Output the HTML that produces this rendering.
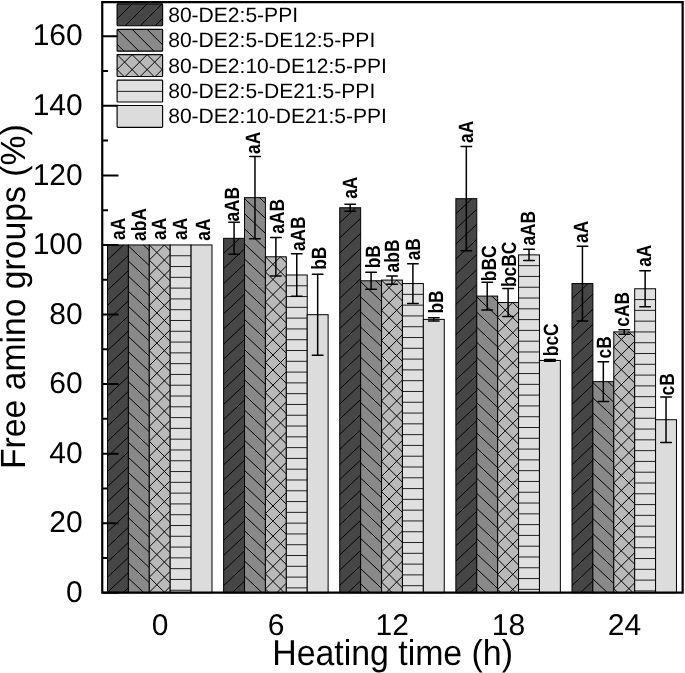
<!DOCTYPE html>
<html><head><meta charset="utf-8"><style>
html,body{margin:0;padding:0;background:#fff;}
svg{display:block;will-change:transform;}
text{font-family:"Liberation Sans",sans-serif;fill:#000;text-rendering:geometricPrecision;}
.lb{font-size:20.7px;font-weight:bold;}
.tl{font-size:30px;}
.tt{font-size:35px;}
.lg{font-size:20.8px;}
</style></head><body>
<svg width="685" height="673" viewBox="0 0 685 673">
<defs></defs>
<rect width="685" height="673" fill="#fff"/>
<rect x="107.50" y="244.96" width="20.90" height="347.80" fill="#464646"/>
<path d="M107.50,260.06L123.56,244.96M107.50,275.16L128.40,255.51M107.50,290.26L128.40,270.61M107.50,305.36L128.40,285.71M107.50,320.46L128.40,300.81M107.50,335.56L128.40,315.91M107.50,350.66L128.40,331.01M107.50,365.76L128.40,346.11M107.50,380.86L128.40,361.21M107.50,395.96L128.40,376.31M107.50,411.06L128.40,391.41M107.50,426.16L128.40,406.51M107.50,441.26L128.40,421.61M107.50,456.36L128.40,436.71M107.50,471.46L128.40,451.81M107.50,486.56L128.40,466.91M107.50,501.66L128.40,482.01M107.50,516.76L128.40,497.11M107.50,531.86L128.40,512.21M107.50,546.96L128.40,527.31M107.50,562.06L128.40,542.41M107.50,577.16L128.40,557.51M107.50,592.26L128.40,572.61M123.03,592.76L128.40,587.71" stroke="#000" stroke-width="1" fill="none"/>
<rect x="107.50" y="244.96" width="20.90" height="347.80" fill="none" stroke="#000" stroke-width="1"/>
<rect x="128.40" y="244.96" width="20.90" height="347.80" fill="#898989"/>
<path d="M143.40,244.96L149.30,250.51M128.40,245.96L149.30,265.61M128.40,261.06L149.30,280.71M128.40,276.16L149.30,295.81M128.40,291.26L149.30,310.91M128.40,306.36L149.30,326.01M128.40,321.46L149.30,341.11M128.40,336.56L149.30,356.21M128.40,351.66L149.30,371.31M128.40,366.76L149.30,386.41M128.40,381.86L149.30,401.51M128.40,396.96L149.30,416.61M128.40,412.06L149.30,431.71M128.40,427.16L149.30,446.81M128.40,442.26L149.30,461.91M128.40,457.36L149.30,477.01M128.40,472.46L149.30,492.11M128.40,487.56L149.30,507.21M128.40,502.66L149.30,522.31M128.40,517.76L149.30,537.41M128.40,532.86L149.30,552.51M128.40,547.96L149.30,567.61M128.40,563.06L149.30,582.71M128.40,578.16L143.93,592.76" stroke="#000" stroke-width="1" fill="none"/>
<rect x="128.40" y="244.96" width="20.90" height="347.80" fill="none" stroke="#000" stroke-width="1"/>
<rect x="149.30" y="244.96" width="20.90" height="347.80" fill="#b9b9b9"/>
<path d="M149.30,260.06L164.40,244.96M149.30,275.16L170.20,254.26M149.30,290.26L170.20,269.36M149.30,305.36L170.20,284.46M149.30,320.46L170.20,299.56M149.30,335.56L170.20,314.66M149.30,350.66L170.20,329.76M149.30,365.76L170.20,344.86M149.30,380.86L170.20,359.96M149.30,395.96L170.20,375.06M149.30,411.06L170.20,390.16M149.30,426.16L170.20,405.26M149.30,441.26L170.20,420.36M149.30,456.36L170.20,435.46M149.30,471.46L170.20,450.56M149.30,486.56L170.20,465.66M149.30,501.66L170.20,480.76M149.30,516.76L170.20,495.86M149.30,531.86L170.20,510.96M149.30,546.96L170.20,526.06M149.30,562.06L170.20,541.16M149.30,577.16L170.20,556.26M149.30,592.26L170.20,571.36M163.90,592.76L170.20,586.46M164.40,244.96L170.20,250.76M149.30,244.96L170.20,265.86M149.30,260.06L170.20,280.96M149.30,275.16L170.20,296.06M149.30,290.26L170.20,311.16M149.30,305.36L170.20,326.26M149.30,320.46L170.20,341.36M149.30,335.56L170.20,356.46M149.30,350.66L170.20,371.56M149.30,365.76L170.20,386.66M149.30,380.86L170.20,401.76M149.30,395.96L170.20,416.86M149.30,411.06L170.20,431.96M149.30,426.16L170.20,447.06M149.30,441.26L170.20,462.16M149.30,456.36L170.20,477.26M149.30,471.46L170.20,492.36M149.30,486.56L170.20,507.46M149.30,501.66L170.20,522.56M149.30,516.76L170.20,537.66M149.30,531.86L170.20,552.76M149.30,546.96L170.20,567.86M149.30,562.06L170.20,582.96M149.30,577.16L164.90,592.76M149.30,592.26L149.80,592.76" stroke="#000" stroke-width="1" fill="none"/>
<rect x="149.30" y="244.96" width="20.90" height="347.80" fill="none" stroke="#000" stroke-width="1"/>
<rect x="170.20" y="244.96" width="20.90" height="347.80" fill="#e0e0e0"/>
<path d="M170.20,255.75L191.10,255.75M170.20,266.54L191.10,266.54M170.20,277.33L191.10,277.33M170.20,288.12L191.10,288.12M170.20,298.91L191.10,298.91M170.20,309.70L191.10,309.70M170.20,320.49L191.10,320.49M170.20,331.28L191.10,331.28M170.20,342.07L191.10,342.07M170.20,352.86L191.10,352.86M170.20,363.65L191.10,363.65M170.20,374.44L191.10,374.44M170.20,385.23L191.10,385.23M170.20,396.02L191.10,396.02M170.20,406.81L191.10,406.81M170.20,417.60L191.10,417.60M170.20,428.39L191.10,428.39M170.20,439.18L191.10,439.18M170.20,449.97L191.10,449.97M170.20,460.76L191.10,460.76M170.20,471.55L191.10,471.55M170.20,482.34L191.10,482.34M170.20,493.13L191.10,493.13M170.20,503.92L191.10,503.92M170.20,514.71L191.10,514.71M170.20,525.50L191.10,525.50M170.20,536.29L191.10,536.29M170.20,547.08L191.10,547.08M170.20,557.87L191.10,557.87M170.20,568.66L191.10,568.66M170.20,579.45L191.10,579.45M170.20,590.24L191.10,590.24" stroke="#222" stroke-width="1" fill="none"/>
<rect x="170.20" y="244.96" width="20.90" height="347.80" fill="none" stroke="#000" stroke-width="1"/>
<rect x="191.10" y="244.96" width="20.90" height="347.80" fill="#dcdcdc"/>
<rect x="191.10" y="244.96" width="20.90" height="347.80" fill="none" stroke="#000" stroke-width="1"/>
<rect x="223.62" y="238.35" width="20.90" height="354.41" fill="#464646"/>
<path d="M223.62,253.45L239.68,238.35M223.62,268.55L244.52,248.91M223.62,283.65L244.52,264.01M223.62,298.75L244.52,279.11M223.62,313.85L244.52,294.21M223.62,328.95L244.52,309.31M223.62,344.05L244.52,324.41M223.62,359.15L244.52,339.51M223.62,374.25L244.52,354.61M223.62,389.35L244.52,369.71M223.62,404.45L244.52,384.81M223.62,419.55L244.52,399.91M223.62,434.65L244.52,415.01M223.62,449.75L244.52,430.11M223.62,464.85L244.52,445.21M223.62,479.95L244.52,460.31M223.62,495.05L244.52,475.41M223.62,510.15L244.52,490.51M223.62,525.25L244.52,505.61M223.62,540.35L244.52,520.71M223.62,555.45L244.52,535.81M223.62,570.55L244.52,550.91M223.62,585.65L244.52,566.01M232.12,592.76L244.52,581.11" stroke="#000" stroke-width="1" fill="none"/>
<rect x="223.62" y="238.35" width="20.90" height="354.41" fill="none" stroke="#000" stroke-width="1"/>
<rect x="244.52" y="197.66" width="20.90" height="395.10" fill="#898989"/>
<path d="M259.52,197.66L265.42,203.21M244.52,198.66L265.42,218.31M244.52,213.76L265.42,233.41M244.52,228.86L265.42,248.51M244.52,243.96L265.42,263.61M244.52,259.06L265.42,278.71M244.52,274.16L265.42,293.81M244.52,289.26L265.42,308.91M244.52,304.36L265.42,324.01M244.52,319.46L265.42,339.11M244.52,334.56L265.42,354.21M244.52,349.66L265.42,369.31M244.52,364.76L265.42,384.41M244.52,379.86L265.42,399.51M244.52,394.96L265.42,414.61M244.52,410.06L265.42,429.71M244.52,425.16L265.42,444.81M244.52,440.26L265.42,459.91M244.52,455.36L265.42,475.01M244.52,470.46L265.42,490.11M244.52,485.56L265.42,505.21M244.52,500.66L265.42,520.31M244.52,515.76L265.42,535.41M244.52,530.86L265.42,550.51M244.52,545.96L265.42,565.61M244.52,561.06L265.42,580.71M244.52,576.16L262.18,592.76M244.52,591.26L246.12,592.76" stroke="#000" stroke-width="1" fill="none"/>
<rect x="244.52" y="197.66" width="20.90" height="395.10" fill="none" stroke="#000" stroke-width="1"/>
<rect x="265.42" y="256.79" width="20.90" height="335.97" fill="#b9b9b9"/>
<path d="M265.42,271.89L280.52,256.79M265.42,286.99L286.32,266.09M265.42,302.09L286.32,281.19M265.42,317.19L286.32,296.29M265.42,332.29L286.32,311.39M265.42,347.39L286.32,326.49M265.42,362.49L286.32,341.59M265.42,377.59L286.32,356.69M265.42,392.69L286.32,371.79M265.42,407.79L286.32,386.89M265.42,422.89L286.32,401.99M265.42,437.99L286.32,417.09M265.42,453.09L286.32,432.19M265.42,468.19L286.32,447.29M265.42,483.29L286.32,462.39M265.42,498.39L286.32,477.49M265.42,513.49L286.32,492.59M265.42,528.59L286.32,507.69M265.42,543.69L286.32,522.79M265.42,558.79L286.32,537.89M265.42,573.89L286.32,552.99M265.42,588.99L286.32,568.09M276.75,592.76L286.32,583.19M280.52,256.79L286.32,262.59M265.42,256.79L286.32,277.69M265.42,271.89L286.32,292.79M265.42,286.99L286.32,307.89M265.42,302.09L286.32,322.99M265.42,317.19L286.32,338.09M265.42,332.29L286.32,353.19M265.42,347.39L286.32,368.29M265.42,362.49L286.32,383.39M265.42,377.59L286.32,398.49M265.42,392.69L286.32,413.59M265.42,407.79L286.32,428.69M265.42,422.89L286.32,443.79M265.42,437.99L286.32,458.89M265.42,453.09L286.32,473.99M265.42,468.19L286.32,489.09M265.42,483.29L286.32,504.19M265.42,498.39L286.32,519.29M265.42,513.49L286.32,534.39M265.42,528.59L286.32,549.49M265.42,543.69L286.32,564.59M265.42,558.79L286.32,579.69M265.42,573.89L284.29,592.76M265.42,588.99L269.19,592.76" stroke="#000" stroke-width="1" fill="none"/>
<rect x="265.42" y="256.79" width="20.90" height="335.97" fill="none" stroke="#000" stroke-width="1"/>
<rect x="286.32" y="274.98" width="20.90" height="317.78" fill="#e0e0e0"/>
<path d="M286.32,285.77L307.22,285.77M286.32,296.56L307.22,296.56M286.32,307.35L307.22,307.35M286.32,318.14L307.22,318.14M286.32,328.93L307.22,328.93M286.32,339.72L307.22,339.72M286.32,350.51L307.22,350.51M286.32,361.30L307.22,361.30M286.32,372.09L307.22,372.09M286.32,382.88L307.22,382.88M286.32,393.67L307.22,393.67M286.32,404.46L307.22,404.46M286.32,415.25L307.22,415.25M286.32,426.04L307.22,426.04M286.32,436.83L307.22,436.83M286.32,447.62L307.22,447.62M286.32,458.41L307.22,458.41M286.32,469.20L307.22,469.20M286.32,479.99L307.22,479.99M286.32,490.78L307.22,490.78M286.32,501.57L307.22,501.57M286.32,512.36L307.22,512.36M286.32,523.15L307.22,523.15M286.32,533.94L307.22,533.94M286.32,544.73L307.22,544.73M286.32,555.52L307.22,555.52M286.32,566.31L307.22,566.31M286.32,577.10L307.22,577.10M286.32,587.89L307.22,587.89" stroke="#222" stroke-width="1" fill="none"/>
<rect x="286.32" y="274.98" width="20.90" height="317.78" fill="none" stroke="#000" stroke-width="1"/>
<rect x="307.22" y="314.69" width="20.90" height="278.07" fill="#dcdcdc"/>
<rect x="307.22" y="314.69" width="20.90" height="278.07" fill="none" stroke="#000" stroke-width="1"/>
<rect x="339.74" y="207.75" width="20.90" height="385.01" fill="#464646"/>
<path d="M339.74,222.85L355.80,207.75M339.74,237.95L360.64,218.30M339.74,253.05L360.64,233.40M339.74,268.15L360.64,248.50M339.74,283.25L360.64,263.60M339.74,298.35L360.64,278.70M339.74,313.45L360.64,293.80M339.74,328.55L360.64,308.90M339.74,343.65L360.64,324.00M339.74,358.75L360.64,339.10M339.74,373.85L360.64,354.20M339.74,388.95L360.64,369.30M339.74,404.05L360.64,384.40M339.74,419.15L360.64,399.50M339.74,434.25L360.64,414.60M339.74,449.35L360.64,429.70M339.74,464.45L360.64,444.80M339.74,479.55L360.64,459.90M339.74,494.65L360.64,475.00M339.74,509.75L360.64,490.10M339.74,524.85L360.64,505.20M339.74,539.95L360.64,520.30M339.74,555.05L360.64,535.40M339.74,570.15L360.64,550.50M339.74,585.25L360.64,565.60M347.81,592.76L360.64,580.70" stroke="#000" stroke-width="1" fill="none"/>
<rect x="339.74" y="207.75" width="20.90" height="385.01" fill="none" stroke="#000" stroke-width="1"/>
<rect x="360.64" y="280.78" width="20.90" height="311.98" fill="#898989"/>
<path d="M375.64,280.78L381.54,286.33M360.64,281.78L381.54,301.43M360.64,296.88L381.54,316.53M360.64,311.98L381.54,331.63M360.64,327.08L381.54,346.73M360.64,342.18L381.54,361.83M360.64,357.28L381.54,376.93M360.64,372.38L381.54,392.03M360.64,387.48L381.54,407.13M360.64,402.58L381.54,422.23M360.64,417.68L381.54,437.33M360.64,432.78L381.54,452.43M360.64,447.88L381.54,467.53M360.64,462.98L381.54,482.63M360.64,478.08L381.54,497.73M360.64,493.18L381.54,512.83M360.64,508.28L381.54,527.93M360.64,523.38L381.54,543.03M360.64,538.48L381.54,558.13M360.64,553.58L381.54,573.23M360.64,568.68L381.54,588.33M360.64,583.78L370.19,592.76" stroke="#000" stroke-width="1" fill="none"/>
<rect x="360.64" y="280.78" width="20.90" height="311.98" fill="none" stroke="#000" stroke-width="1"/>
<rect x="381.54" y="280.09" width="20.90" height="312.67" fill="#b9b9b9"/>
<path d="M381.54,295.19L396.64,280.09M381.54,310.29L402.44,289.39M381.54,325.39L402.44,304.49M381.54,340.49L402.44,319.59M381.54,355.59L402.44,334.69M381.54,370.69L402.44,349.79M381.54,385.79L402.44,364.89M381.54,400.89L402.44,379.99M381.54,415.99L402.44,395.09M381.54,431.09L402.44,410.19M381.54,446.19L402.44,425.29M381.54,461.29L402.44,440.39M381.54,476.39L402.44,455.49M381.54,491.49L402.44,470.59M381.54,506.59L402.44,485.69M381.54,521.69L402.44,500.79M381.54,536.79L402.44,515.89M381.54,551.89L402.44,530.99M381.54,566.99L402.44,546.09M381.54,582.09L402.44,561.19M385.97,592.76L402.44,576.29M401.07,592.76L402.44,591.39M396.64,280.09L402.44,285.89M381.54,280.09L402.44,300.99M381.54,295.19L402.44,316.09M381.54,310.29L402.44,331.19M381.54,325.39L402.44,346.29M381.54,340.49L402.44,361.39M381.54,355.59L402.44,376.49M381.54,370.69L402.44,391.59M381.54,385.79L402.44,406.69M381.54,400.89L402.44,421.79M381.54,415.99L402.44,436.89M381.54,431.09L402.44,451.99M381.54,446.19L402.44,467.09M381.54,461.29L402.44,482.19M381.54,476.39L402.44,497.29M381.54,491.49L402.44,512.39M381.54,506.59L402.44,527.49M381.54,521.69L402.44,542.59M381.54,536.79L402.44,557.69M381.54,551.89L402.44,572.79M381.54,566.99L402.44,587.89M381.54,582.09L392.21,592.76" stroke="#000" stroke-width="1" fill="none"/>
<rect x="381.54" y="280.09" width="20.90" height="312.67" fill="none" stroke="#000" stroke-width="1"/>
<rect x="402.44" y="283.57" width="20.90" height="309.19" fill="#e0e0e0"/>
<path d="M402.44,294.36L423.34,294.36M402.44,305.15L423.34,305.15M402.44,315.94L423.34,315.94M402.44,326.73L423.34,326.73M402.44,337.52L423.34,337.52M402.44,348.31L423.34,348.31M402.44,359.10L423.34,359.10M402.44,369.89L423.34,369.89M402.44,380.68L423.34,380.68M402.44,391.47L423.34,391.47M402.44,402.26L423.34,402.26M402.44,413.05L423.34,413.05M402.44,423.84L423.34,423.84M402.44,434.63L423.34,434.63M402.44,445.42L423.34,445.42M402.44,456.21L423.34,456.21M402.44,467.00L423.34,467.00M402.44,477.79L423.34,477.79M402.44,488.58L423.34,488.58M402.44,499.37L423.34,499.37M402.44,510.16L423.34,510.16M402.44,520.95L423.34,520.95M402.44,531.74L423.34,531.74M402.44,542.53L423.34,542.53M402.44,553.32L423.34,553.32M402.44,564.11L423.34,564.11M402.44,574.90L423.34,574.90M402.44,585.69L423.34,585.69" stroke="#222" stroke-width="1" fill="none"/>
<rect x="402.44" y="283.57" width="20.90" height="309.19" fill="none" stroke="#000" stroke-width="1"/>
<rect x="423.34" y="319.39" width="20.90" height="273.37" fill="#dcdcdc"/>
<rect x="423.34" y="319.39" width="20.90" height="273.37" fill="none" stroke="#000" stroke-width="1"/>
<rect x="455.86" y="198.70" width="20.90" height="394.06" fill="#464646"/>
<path d="M455.86,213.80L471.92,198.70M455.86,228.90L476.76,209.26M455.86,244.00L476.76,224.36M455.86,259.10L476.76,239.46M455.86,274.20L476.76,254.56M455.86,289.30L476.76,269.66M455.86,304.40L476.76,284.76M455.86,319.50L476.76,299.86M455.86,334.60L476.76,314.96M455.86,349.70L476.76,330.06M455.86,364.80L476.76,345.16M455.86,379.90L476.76,360.26M455.86,395.00L476.76,375.36M455.86,410.10L476.76,390.46M455.86,425.20L476.76,405.56M455.86,440.30L476.76,420.66M455.86,455.40L476.76,435.76M455.86,470.50L476.76,450.86M455.86,485.60L476.76,465.96M455.86,500.70L476.76,481.06M455.86,515.80L476.76,496.16M455.86,530.90L476.76,511.26M455.86,546.00L476.76,526.36M455.86,561.10L476.76,541.46M455.86,576.20L476.76,556.56M455.86,591.30L476.76,571.66M470.37,592.76L476.76,586.76" stroke="#000" stroke-width="1" fill="none"/>
<rect x="455.86" y="198.70" width="20.90" height="394.06" fill="none" stroke="#000" stroke-width="1"/>
<rect x="476.76" y="296.09" width="20.90" height="296.67" fill="#898989"/>
<path d="M491.76,296.09L497.66,301.63M476.76,297.09L497.66,316.73M476.76,312.19L497.66,331.83M476.76,327.29L497.66,346.93M476.76,342.39L497.66,362.03M476.76,357.49L497.66,377.13M476.76,372.59L497.66,392.23M476.76,387.69L497.66,407.33M476.76,402.79L497.66,422.43M476.76,417.89L497.66,437.53M476.76,432.99L497.66,452.63M476.76,448.09L497.66,467.73M476.76,463.19L497.66,482.83M476.76,478.29L497.66,497.93M476.76,493.39L497.66,513.03M476.76,508.49L497.66,528.13M476.76,523.59L497.66,543.23M476.76,538.69L497.66,558.33M476.76,553.79L497.66,573.43M476.76,568.89L497.66,588.53M476.76,583.99L486.09,592.76" stroke="#000" stroke-width="1" fill="none"/>
<rect x="476.76" y="296.09" width="20.90" height="296.67" fill="none" stroke="#000" stroke-width="1"/>
<rect x="497.66" y="302.52" width="20.90" height="290.24" fill="#b9b9b9"/>
<path d="M497.66,317.62L512.76,302.52M497.66,332.72L518.56,311.82M497.66,347.82L518.56,326.92M497.66,362.92L518.56,342.02M497.66,378.02L518.56,357.12M497.66,393.12L518.56,372.22M497.66,408.22L518.56,387.32M497.66,423.32L518.56,402.42M497.66,438.42L518.56,417.52M497.66,453.52L518.56,432.62M497.66,468.62L518.56,447.72M497.66,483.72L518.56,462.82M497.66,498.82L518.56,477.92M497.66,513.92L518.56,493.02M497.66,529.02L518.56,508.12M497.66,544.12L518.56,523.22M497.66,559.22L518.56,538.32M497.66,574.32L518.56,553.42M497.66,589.42L518.56,568.52M509.42,592.76L518.56,583.62M512.76,302.52L518.56,308.32M497.66,302.52L518.56,323.42M497.66,317.62L518.56,338.52M497.66,332.72L518.56,353.62M497.66,347.82L518.56,368.72M497.66,362.92L518.56,383.82M497.66,378.02L518.56,398.92M497.66,393.12L518.56,414.02M497.66,408.22L518.56,429.12M497.66,423.32L518.56,444.22M497.66,438.42L518.56,459.32M497.66,453.52L518.56,474.42M497.66,468.62L518.56,489.52M497.66,483.72L518.56,504.62M497.66,498.82L518.56,519.72M497.66,513.92L518.56,534.82M497.66,529.02L518.56,549.92M497.66,544.12L518.56,565.02M497.66,559.22L518.56,580.12M497.66,574.32L516.10,592.76M497.66,589.42L501.00,592.76" stroke="#000" stroke-width="1" fill="none"/>
<rect x="497.66" y="302.52" width="20.90" height="290.24" fill="none" stroke="#000" stroke-width="1"/>
<rect x="518.56" y="254.87" width="20.90" height="337.89" fill="#e0e0e0"/>
<path d="M518.56,265.66L539.46,265.66M518.56,276.45L539.46,276.45M518.56,287.24L539.46,287.24M518.56,298.03L539.46,298.03M518.56,308.82L539.46,308.82M518.56,319.61L539.46,319.61M518.56,330.40L539.46,330.40M518.56,341.19L539.46,341.19M518.56,351.98L539.46,351.98M518.56,362.77L539.46,362.77M518.56,373.56L539.46,373.56M518.56,384.35L539.46,384.35M518.56,395.14L539.46,395.14M518.56,405.93L539.46,405.93M518.56,416.72L539.46,416.72M518.56,427.51L539.46,427.51M518.56,438.30L539.46,438.30M518.56,449.09L539.46,449.09M518.56,459.88L539.46,459.88M518.56,470.67L539.46,470.67M518.56,481.46L539.46,481.46M518.56,492.25L539.46,492.25M518.56,503.04L539.46,503.04M518.56,513.83L539.46,513.83M518.56,524.62L539.46,524.62M518.56,535.41L539.46,535.41M518.56,546.20L539.46,546.20M518.56,556.99L539.46,556.99M518.56,567.78L539.46,567.78M518.56,578.57L539.46,578.57M518.56,589.36L539.46,589.36" stroke="#222" stroke-width="1" fill="none"/>
<rect x="518.56" y="254.87" width="20.90" height="337.89" fill="none" stroke="#000" stroke-width="1"/>
<rect x="539.46" y="360.43" width="20.90" height="232.33" fill="#dcdcdc"/>
<rect x="539.46" y="360.43" width="20.90" height="232.33" fill="none" stroke="#000" stroke-width="1"/>
<rect x="571.98" y="283.57" width="20.90" height="309.19" fill="#464646"/>
<path d="M571.98,298.67L588.04,283.57M571.98,313.77L592.88,294.12M571.98,328.87L592.88,309.22M571.98,343.97L592.88,324.32M571.98,359.07L592.88,339.42M571.98,374.17L592.88,354.52M571.98,389.27L592.88,369.62M571.98,404.37L592.88,384.72M571.98,419.47L592.88,399.82M571.98,434.57L592.88,414.92M571.98,449.67L592.88,430.02M571.98,464.77L592.88,445.12M571.98,479.87L592.88,460.22M571.98,494.97L592.88,475.32M571.98,510.07L592.88,490.42M571.98,525.17L592.88,505.52M571.98,540.27L592.88,520.62M571.98,555.37L592.88,535.72M571.98,570.47L592.88,550.82M571.98,585.57L592.88,565.92M580.39,592.76L592.88,581.02" stroke="#000" stroke-width="1" fill="none"/>
<rect x="571.98" y="283.57" width="20.90" height="309.19" fill="none" stroke="#000" stroke-width="1"/>
<rect x="592.88" y="381.65" width="20.90" height="211.11" fill="#898989"/>
<path d="M607.88,381.65L613.78,387.19M592.88,382.65L613.78,402.29M592.88,397.75L613.78,417.39M592.88,412.85L613.78,432.49M592.88,427.95L613.78,447.59M592.88,443.05L613.78,462.69M592.88,458.15L613.78,477.79M592.88,473.25L613.78,492.89M592.88,488.35L613.78,507.99M592.88,503.45L613.78,523.09M592.88,518.55L613.78,538.19M592.88,533.65L613.78,553.29M592.88,548.75L613.78,568.39M592.88,563.85L613.78,583.49M592.88,578.95L607.58,592.76" stroke="#000" stroke-width="1" fill="none"/>
<rect x="592.88" y="381.65" width="20.90" height="211.11" fill="none" stroke="#000" stroke-width="1"/>
<rect x="613.78" y="331.91" width="20.90" height="260.85" fill="#b9b9b9"/>
<path d="M613.78,347.01L628.88,331.91M613.78,362.11L634.68,341.21M613.78,377.21L634.68,356.31M613.78,392.31L634.68,371.41M613.78,407.41L634.68,386.51M613.78,422.51L634.68,401.61M613.78,437.61L634.68,416.71M613.78,452.71L634.68,431.81M613.78,467.81L634.68,446.91M613.78,482.91L634.68,462.01M613.78,498.01L634.68,477.11M613.78,513.11L634.68,492.21M613.78,528.21L634.68,507.31M613.78,543.31L634.68,522.41M613.78,558.41L634.68,537.51M613.78,573.51L634.68,552.61M613.78,588.61L634.68,567.71M624.73,592.76L634.68,582.81M628.88,331.91L634.68,337.71M613.78,331.91L634.68,352.81M613.78,347.01L634.68,367.91M613.78,362.11L634.68,383.01M613.78,377.21L634.68,398.11M613.78,392.31L634.68,413.21M613.78,407.41L634.68,428.31M613.78,422.51L634.68,443.41M613.78,437.61L634.68,458.51M613.78,452.71L634.68,473.61M613.78,467.81L634.68,488.71M613.78,482.91L634.68,503.81M613.78,498.01L634.68,518.91M613.78,513.11L634.68,534.01M613.78,528.21L634.68,549.11M613.78,543.31L634.68,564.21M613.78,558.41L634.68,579.31M613.78,573.51L633.03,592.76M613.78,588.61L617.93,592.76" stroke="#000" stroke-width="1" fill="none"/>
<rect x="613.78" y="331.91" width="20.90" height="260.85" fill="none" stroke="#000" stroke-width="1"/>
<rect x="634.68" y="288.78" width="20.90" height="303.98" fill="#e0e0e0"/>
<path d="M634.68,299.57L655.58,299.57M634.68,310.36L655.58,310.36M634.68,321.15L655.58,321.15M634.68,331.94L655.58,331.94M634.68,342.73L655.58,342.73M634.68,353.52L655.58,353.52M634.68,364.31L655.58,364.31M634.68,375.10L655.58,375.10M634.68,385.89L655.58,385.89M634.68,396.68L655.58,396.68M634.68,407.47L655.58,407.47M634.68,418.26L655.58,418.26M634.68,429.05L655.58,429.05M634.68,439.84L655.58,439.84M634.68,450.63L655.58,450.63M634.68,461.42L655.58,461.42M634.68,472.21L655.58,472.21M634.68,483.00L655.58,483.00M634.68,493.79L655.58,493.79M634.68,504.58L655.58,504.58M634.68,515.37L655.58,515.37M634.68,526.16L655.58,526.16M634.68,536.95L655.58,536.95M634.68,547.74L655.58,547.74M634.68,558.53L655.58,558.53M634.68,569.32L655.58,569.32M634.68,580.11L655.58,580.11M634.68,590.90L655.58,590.90" stroke="#222" stroke-width="1" fill="none"/>
<rect x="634.68" y="288.78" width="20.90" height="303.98" fill="none" stroke="#000" stroke-width="1"/>
<rect x="655.58" y="419.73" width="20.90" height="173.03" fill="#dcdcdc"/>
<rect x="655.58" y="419.73" width="20.90" height="173.03" fill="none" stroke="#000" stroke-width="1"/>
<path d="M234.07,222.35V254.35" stroke="#000" stroke-width="1.5" fill="none"/><path d="M228.77,222.35H239.37M228.77,254.35H239.37" stroke="#000" stroke-width="1.5" stroke-linecap="round" fill="none"/>
<path d="M254.97,156.62V238.70" stroke="#000" stroke-width="1.5" fill="none"/><path d="M249.67,156.62H260.27M249.67,238.70H260.27" stroke="#000" stroke-width="1.5" stroke-linecap="round" fill="none"/>
<path d="M275.87,237.59V275.98" stroke="#000" stroke-width="1.5" fill="none"/><path d="M270.57,237.59H281.17M270.57,275.98H281.17" stroke="#000" stroke-width="1.5" stroke-linecap="round" fill="none"/>
<path d="M296.77,253.65V296.30" stroke="#000" stroke-width="1.5" fill="none"/><path d="M291.47,253.65H302.07M291.47,296.30H302.07" stroke="#000" stroke-width="1.5" stroke-linecap="round" fill="none"/>
<path d="M317.67,274.14V355.25" stroke="#000" stroke-width="1.5" fill="none"/><path d="M312.37,274.14H322.97M312.37,355.25H322.97" stroke="#000" stroke-width="1.5" stroke-linecap="round" fill="none"/>
<path d="M350.19,204.34V211.15" stroke="#000" stroke-width="1.5" fill="none"/><path d="M344.89,204.34H355.49M344.89,211.15H355.49" stroke="#000" stroke-width="1.5" stroke-linecap="round" fill="none"/>
<path d="M371.09,272.26V289.30" stroke="#000" stroke-width="1.5" fill="none"/><path d="M365.79,272.26H376.39M365.79,289.30H376.39" stroke="#000" stroke-width="1.5" stroke-linecap="round" fill="none"/>
<path d="M391.99,275.91V284.26" stroke="#000" stroke-width="1.5" fill="none"/><path d="M386.69,275.91H397.29M386.69,284.26H397.29" stroke="#000" stroke-width="1.5" stroke-linecap="round" fill="none"/>
<path d="M412.89,263.74V303.39" stroke="#000" stroke-width="1.5" fill="none"/><path d="M407.59,263.74H418.19M407.59,303.39H418.19" stroke="#000" stroke-width="1.5" stroke-linecap="round" fill="none"/>
<path d="M433.79,317.79V320.99" stroke="#000" stroke-width="1.5" fill="none"/><path d="M428.49,317.79H439.09M428.49,320.99H439.09" stroke="#000" stroke-width="1.5" stroke-linecap="round" fill="none"/>
<path d="M466.31,146.53V250.87" stroke="#000" stroke-width="1.5" fill="none"/><path d="M461.01,146.53H471.61M461.01,250.87H471.61" stroke="#000" stroke-width="1.5" stroke-linecap="round" fill="none"/>
<path d="M487.21,282.28V309.89" stroke="#000" stroke-width="1.5" fill="none"/><path d="M481.91,282.28H492.51M481.91,309.89H492.51" stroke="#000" stroke-width="1.5" stroke-linecap="round" fill="none"/>
<path d="M508.11,288.43V316.61" stroke="#000" stroke-width="1.5" fill="none"/><path d="M502.81,288.43H513.41M502.81,316.61H513.41" stroke="#000" stroke-width="1.5" stroke-linecap="round" fill="none"/>
<path d="M529.01,249.31V260.44" stroke="#000" stroke-width="1.5" fill="none"/><path d="M523.71,249.31H534.31M523.71,260.44H534.31" stroke="#000" stroke-width="1.5" stroke-linecap="round" fill="none"/>
<path d="M549.91,359.56V361.30" stroke="#000" stroke-width="1.5" fill="none"/><path d="M544.61,359.56H555.21M544.61,361.30H555.21" stroke="#000" stroke-width="1.5" stroke-linecap="round" fill="none"/>
<path d="M582.43,246.18V320.95" stroke="#000" stroke-width="1.5" fill="none"/><path d="M577.13,246.18H587.73M577.13,320.95H587.73" stroke="#000" stroke-width="1.5" stroke-linecap="round" fill="none"/>
<path d="M603.33,361.82V401.47" stroke="#000" stroke-width="1.5" fill="none"/><path d="M598.03,361.82H608.63M598.03,401.47H608.63" stroke="#000" stroke-width="1.5" stroke-linecap="round" fill="none"/>
<path d="M624.23,329.65V334.17" stroke="#000" stroke-width="1.5" fill="none"/><path d="M618.93,329.65H629.53M618.93,334.17H629.53" stroke="#000" stroke-width="1.5" stroke-linecap="round" fill="none"/>
<path d="M645.13,270.80V306.76" stroke="#000" stroke-width="1.5" fill="none"/><path d="M639.83,270.80H650.43M639.83,306.76H650.43" stroke="#000" stroke-width="1.5" stroke-linecap="round" fill="none"/>
<path d="M666.03,396.98V442.48" stroke="#000" stroke-width="1.5" fill="none"/><path d="M660.73,396.98H671.33M660.73,442.48H671.33" stroke="#000" stroke-width="1.5" stroke-linecap="round" fill="none"/>
<text transform="translate(124.84,240.00) rotate(-90) scale(0.84,1)" class="lb">aA</text>
<text transform="translate(145.94,240.90) rotate(-90) scale(0.84,1)" class="lb">abA</text>
<text transform="translate(166.04,239.90) rotate(-90) scale(0.84,1)" class="lb">aA</text>
<text transform="translate(186.64,239.90) rotate(-90) scale(0.84,1)" class="lb">aA</text>
<text transform="translate(209.74,240.70) rotate(-90) scale(0.84,1)" class="lb">aA</text>
<text transform="translate(239.36,221.60) rotate(-90) scale(0.84,1)" class="lb">aAB</text>
<text transform="translate(260.36,154.00) rotate(-90) scale(0.84,1)" class="lb">aA</text>
<text transform="translate(283.56,233.70) rotate(-90) scale(0.84,1)" class="lb">aAB</text>
<text transform="translate(305.16,251.10) rotate(-90) scale(0.84,1)" class="lb">aAB</text>
<text transform="translate(325.96,269.80) rotate(-90) scale(0.84,1)" class="lb">bB</text>
<text transform="translate(356.88,198.80) rotate(-90) scale(0.84,1)" class="lb">aA</text>
<text transform="translate(379.98,268.30) rotate(-90) scale(0.84,1)" class="lb">bB</text>
<text transform="translate(399.18,272.40) rotate(-90) scale(0.84,1)" class="lb">abB</text>
<text transform="translate(419.88,260.30) rotate(-90) scale(0.84,1)" class="lb">aB</text>
<text transform="translate(442.68,313.60) rotate(-90) scale(0.84,1)" class="lb">bB</text>
<text transform="translate(473.00,143.00) rotate(-90) scale(0.84,1)" class="lb">aA</text>
<text transform="translate(496.30,281.20) rotate(-90) scale(0.84,1)" class="lb">bBC</text>
<text transform="translate(516.30,287.10) rotate(-90) scale(0.84,1)" class="lb">bcBC</text>
<text transform="translate(535.30,245.60) rotate(-90) scale(0.84,1)" class="lb">aAB</text>
<text transform="translate(557.70,356.20) rotate(-90) scale(0.84,1)" class="lb">bcC</text>
<text transform="translate(588.22,243.00) rotate(-90) scale(0.84,1)" class="lb">aA</text>
<text transform="translate(610.72,358.40) rotate(-90) scale(0.84,1)" class="lb">cB</text>
<text transform="translate(629.32,326.70) rotate(-90) scale(0.84,1)" class="lb">cAB</text>
<text transform="translate(651.12,266.80) rotate(-90) scale(0.84,1)" class="lb">aA</text>
<text transform="translate(673.72,395.50) rotate(-90) scale(0.84,1)" class="lb">cB</text>
<path d="M102.25,2.05V592.55H682.65V2.05Z" stroke="#000" stroke-width="2.2" fill="none"/>
<path d="M103,592.76H118.50M103,557.98H108.00M103,523.20H118.50M103,488.42H108.00M103,453.64H118.50M103,418.86H108.00M103,384.08H118.50M103,349.30H108.00M103,314.52H118.50M103,279.74H108.00M103,244.96H118.50M103,210.18H108.00M103,175.40H118.50M103,140.62H108.00M103,105.84H118.50M103,71.06H108.00M103,36.28H118.50" stroke="#000" stroke-width="2" fill="none"/>
<text transform="translate(82.7,601.96) scale(1.0,1)" class="tl" text-anchor="end">0</text>
<text transform="translate(82.7,532.40) scale(1.0,1)" class="tl" text-anchor="end">20</text>
<text transform="translate(82.7,462.84) scale(1.0,1)" class="tl" text-anchor="end">40</text>
<text transform="translate(82.7,393.28) scale(1.0,1)" class="tl" text-anchor="end">60</text>
<text transform="translate(82.7,323.72) scale(1.0,1)" class="tl" text-anchor="end">80</text>
<text transform="translate(82.7,254.16) scale(1.0,1)" class="tl" text-anchor="end">100</text>
<text transform="translate(82.7,184.60) scale(1.0,1)" class="tl" text-anchor="end">120</text>
<text transform="translate(82.7,115.04) scale(1.0,1)" class="tl" text-anchor="end">140</text>
<text transform="translate(82.7,45.48) scale(1.0,1)" class="tl" text-anchor="end">160</text>
<text transform="translate(160.05,635.3) scale(1.0,1)" class="tl" text-anchor="middle">0</text>
<text transform="translate(276.17,635.3) scale(1.0,1)" class="tl" text-anchor="middle">6</text>
<text transform="translate(392.29,635.3) scale(1.0,1)" class="tl" text-anchor="middle">12</text>
<text transform="translate(508.41,635.3) scale(1.0,1)" class="tl" text-anchor="middle">18</text>
<text transform="translate(624.53,635.3) scale(1.0,1)" class="tl" text-anchor="middle">24</text>
<text transform="translate(272.2,665.1) scale(0.94,1)" class="tt" style="font-size:36px">Heating time (h)</text>
<text transform="translate(25.3,469.0) rotate(-90) scale(0.963,1)" class="tt">Free amino groups (%)</text>
<rect x="117.10" y="3.85" width="45.5" height="21.9" fill="#464646"/>
<path d="M117.10,18.85L132.10,3.85M125.20,25.75L147.10,3.85M140.20,25.75L162.10,3.85M155.20,25.75L162.60,18.35" stroke="#000" stroke-width="1" fill="none"/>
<rect x="117.10" y="3.85" width="45.5" height="21.9" fill="none" stroke="#000" stroke-width="1.15" rx="0.8"/>
<text transform="translate(168.2,21.75) scale(1.012,1)" class="lg">80-DE2:5-PPI</text>
<rect x="117.10" y="29.30" width="45.5" height="21.9" fill="#898989"/>
<path d="M162.10,29.30L162.60,29.80M147.10,29.30L162.60,44.80M132.10,29.30L154.00,51.20M117.10,29.30L139.00,51.20M117.10,44.30L124.00,51.20" stroke="#000" stroke-width="1" fill="none"/>
<rect x="117.10" y="29.30" width="45.5" height="21.9" fill="none" stroke="#000" stroke-width="1.15" rx="0.8"/>
<text transform="translate(168.2,47.20) scale(1.012,1)" class="lg">80-DE2:5-DE12:5-PPI</text>
<rect x="117.10" y="54.60" width="45.5" height="21.9" fill="#b9b9b9"/>
<path d="M117.10,69.60L132.10,54.60M125.20,76.50L147.10,54.60M140.20,76.50L162.10,54.60M155.20,76.50L162.60,69.10M162.10,54.60L162.60,55.10M147.10,54.60L162.60,70.10M132.10,54.60L154.00,76.50M117.10,54.60L139.00,76.50M117.10,69.60L124.00,76.50" stroke="#000" stroke-width="1" fill="none"/>
<rect x="117.10" y="54.60" width="45.5" height="21.9" fill="none" stroke="#000" stroke-width="1.15" rx="0.8"/>
<text transform="translate(168.2,72.50) scale(1.012,1)" class="lg">80-DE2:10-DE12:5-PPI</text>
<rect x="117.10" y="80.10" width="45.5" height="21.9" fill="#e0e0e0"/>
<path d="M117.10,91.40L162.60,91.40" stroke="#222" stroke-width="1" fill="none"/>
<rect x="117.10" y="80.10" width="45.5" height="21.9" fill="none" stroke="#000" stroke-width="1.15" rx="0.8"/>
<text transform="translate(168.2,98.00) scale(1.012,1)" class="lg">80-DE2:5-DE21:5-PPI</text>
<rect x="117.10" y="105.50" width="45.5" height="21.9" fill="#dcdcdc"/>
<rect x="117.10" y="105.50" width="45.5" height="21.9" fill="none" stroke="#000" stroke-width="1.15" rx="0.8"/>
<text transform="translate(168.2,123.40) scale(1.012,1)" class="lg">80-DE2:10-DE21:5-PPI</text>
</svg>
</body></html>
